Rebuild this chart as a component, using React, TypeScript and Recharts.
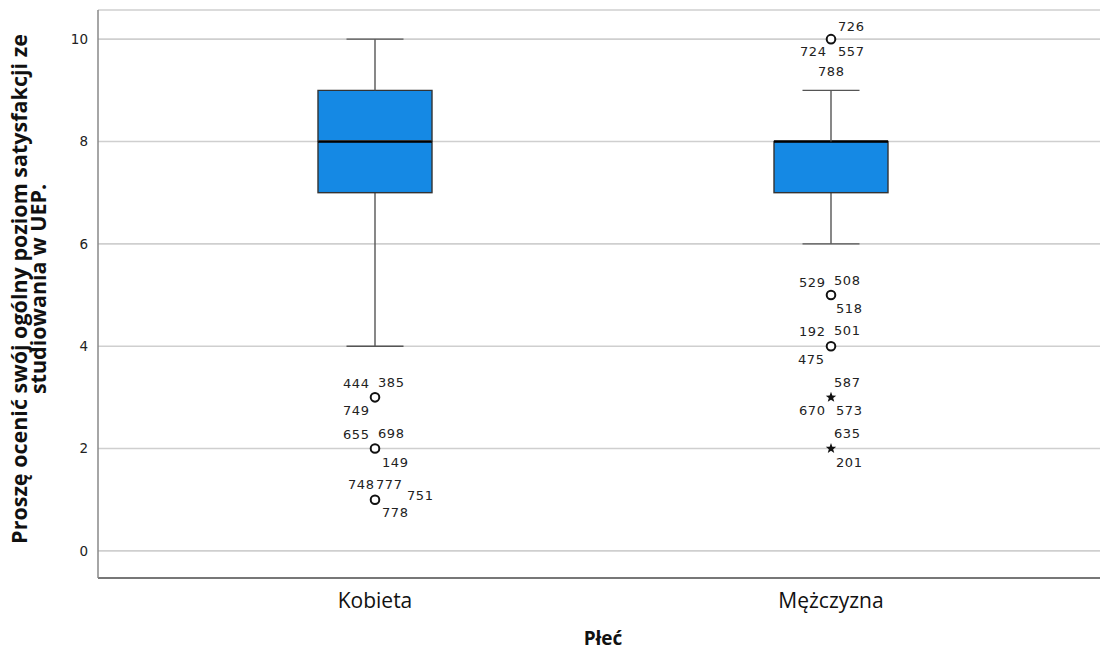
import { ComposedChart, Bar, Scatter, XAxis, YAxis, CartesianGrid } from 'recharts'

// box plot summary per group
const categories = ['Kobieta', 'Mężczyzna']
const whiskerLow = [4, 6]
const quartile1 = [7, 7]
const medians = [8, 8]
const quartile3 = [9, 8]
const whiskerHigh = [10, 9]

// outliers (o) and extremes (*), with case numbers
const outlierCategory = ['Kobieta', 'Kobieta', 'Kobieta', 'Mężczyzna', 'Mężczyzna', 'Mężczyzna', 'Mężczyzna', 'Mężczyzna']
const outlierValues = [3, 2, 1, 10, 5, 4, 3, 2]
const outlierExtreme = [false, false, false, false, false, false, true, true]
const outlierCases = [
  ['444', '385', '749'],
  ['655', '698', '149'],
  ['748', '777', '751', '778'],
  ['726', '724', '557', '788'],
  ['529', '508', '518'],
  ['192', '501', '475'],
  ['587', '670', '573'],
  ['635', '201'],
]

// where each case label sits around its marker (left edge, vertical centre)
const LABEL_OFFSET: Record<string, [number, number]> = {
  '444': [-32, -14], '385': [3, -15], '749': [-32, 13],
  '655': [-32, -14], '698': [3, -15], '149': [7, 14],
  '748': [-27, -15], '777': [1, -15], '751': [32, -4], '778': [7, 13],
  '726': [7, -13], '724': [-31, 12], '557': [7, 12], '788': [-13, 32],
  '529': [-32, -13], '508': [3, -15], '518': [5, 13],
  '192': [-32, -15], '501': [3, -16], '475': [-33, 13],
  '587': [3, -15], '670': [-32, 13], '573': [5, 13],
  '635': [3, -15], '201': [5, 14],
}

const BOX_FILL = '#1589e4'
const LABEL_FONT = '"DejaVu Sans", sans-serif'

const boxData = categories.map((name, i) => ({
  name,
  base: whiskerLow[i],
  lowWhisker: quartile1[i] - whiskerLow[i],
  lowBox: medians[i] - quartile1[i],
  highBox: quartile3[i] - medians[i],
  highWhisker: whiskerHigh[i] - quartile3[i],
}))

const outlierData = outlierValues.map((value, i) => ({
  name: outlierCategory[i],
  value,
  extreme: outlierExtreme[i],
  cases: outlierCases[i],
}))

const LowWhisker = (props: any) => {
  const { x, y, width, height } = props
  const cx = x + width / 2
  return (
    <g stroke="#555" strokeWidth={1.4}>
      <line x1={cx} x2={cx} y1={y} y2={y + height} />
      <line x1={cx - width / 4} x2={cx + width / 4} y1={y + height} y2={y + height} />
    </g>
  )
}

const HighWhisker = (props: any) => {
  const { x, y, width, height } = props
  const cx = x + width / 2
  return (
    <g stroke="#555" strokeWidth={1.4}>
      <line x1={cx} x2={cx} y1={y} y2={y + height} />
      <line x1={cx - width / 4} x2={cx + width / 4} y1={y} y2={y} />
    </g>
  )
}

const LowBox = (props: any) => {
  const { x, y, width, height } = props
  return (
    <g>
      <rect x={x} y={y} width={width} height={height} fill={BOX_FILL} stroke="#333" strokeWidth={1.4} />
      <line x1={x} x2={x + width} y1={y} y2={y} stroke="#000" strokeWidth={2.6} />
    </g>
  )
}

const HighBox = (props: any) => {
  const { x, y, width, height } = props
  if (!height) return <g />
  return (
    <g>
      <rect x={x} y={y} width={width} height={height - 1.5} fill={BOX_FILL} />
      <path
        d={`M${x},${y + height} L${x},${y} L${x + width},${y} L${x + width},${y + height}`}
        fill="none"
        stroke="#333"
        strokeWidth={1.4}
      />
    </g>
  )
}

const starPoints = (cx: number, cy: number, outer: number, inner: number) => {
  const pts: string[] = []
  for (let k = 0; k < 10; k++) {
    const r = k % 2 === 0 ? outer : inner
    const a = -Math.PI / 2 + (k * Math.PI) / 5
    pts.push(`${cx + r * Math.cos(a)},${cy + r * Math.sin(a)}`)
  }
  return pts.join(' ')
}

const OutlierShape = (props: any) => {
  const { cx, cy, payload } = props
  return (
    <g>
      {payload.extreme ? (
        <polygon points={starPoints(cx, cy, 5.5, 2.3)} fill="#111" />
      ) : (
        <circle cx={cx} cy={cy} r={4.3} fill="#fff" stroke="#111" strokeWidth={2} />
      )}
      {payload.cases.map((c: string) => {
        const [dx, dy] = LABEL_OFFSET[c] || [4, -14]
        return (
          <text
            key={c}
            x={cx + dx}
            y={cy + dy}
            dominantBaseline="central"
            fontFamily={LABEL_FONT}
            fontSize={13}
            letterSpacing={0.6}
            fill="#222"
          >
            {c}
          </text>
        )
      })}
    </g>
  )
}

const YTitle = (props: any) => {
  const { viewBox } = props
  const cy = viewBox.y + viewBox.height / 2 - 5
  return (
    <g transform={`rotate(-90, 0, ${cy})`}>
      <text
        x={0}
        y={cy}
        textAnchor="middle"
        fontFamily='"Open Sans", sans-serif'
        fontWeight="bold"
        fontSize={21.5}
        fill="#111"
      >
        <tspan x={0} dy={26.5}>Proszę ocenić swój ogólny poziom satysfakcji ze</tspan>
        <tspan x={0} dy={19}>studiowania w UEP.</tspan>
      </text>
    </g>
  )
}

const XTitle = (props: any) => {
  const { viewBox } = props
  return (
    <text
      x={viewBox.x + viewBox.width / 2}
      y={645}
      textAnchor="middle"
      fontFamily='"Open Sans", sans-serif'
      fontWeight="bold"
      fontSize={19}
      fill="#111"
    >
      Płeć
    </text>
  )
}

export default function App() {
  return (
    <div style={{ position: 'absolute', left: 0, top: 0, width: 1100, height: 653, overflow: 'hidden', background: '#fff' }}>
      <ComposedChart width={1110} height={653} data={boxData} margin={{ top: 10, right: 2, left: 0, bottom: 0 }}>
        <CartesianGrid horizontal vertical={false} stroke="#cfcfcf" strokeWidth={1.6} />
        <XAxis
          dataKey="name"
          type="category"
          allowDuplicatedCategory={false}
          padding={{ left: 49, right: 49 }}
          height={75}
          tickLine={false}
          axisLine={{ stroke: '#777', strokeWidth: 2 }}
          tickMargin={9}
          tick={{ fontSize: 21, fill: '#111', fontFamily: '"Open Sans", sans-serif' }}
          label={<XTitle />}
        />
        <YAxis
          type="number"
          domain={[-0.53, 10.57]}
          allowDataOverflow
          ticks={[0, 2, 4, 6, 8, 10]}
          width={98}
          tickLine={false}
          tickMargin={4}
          axisLine={{ stroke: '#888', strokeWidth: 1.5 }}
          tick={{ fontSize: 13.5, fill: '#222', fontFamily: LABEL_FONT }}
          label={<YTitle />}
        />
        <Bar dataKey="base" stackId="box" barSize={114} fill="transparent" isAnimationActive={false} />
        <Bar dataKey="lowWhisker" stackId="box" barSize={114} shape={<LowWhisker />} isAnimationActive={false} />
        <Bar dataKey="lowBox" stackId="box" barSize={114} shape={<LowBox />} isAnimationActive={false} />
        <Bar dataKey="highBox" stackId="box" barSize={114} shape={<HighBox />} isAnimationActive={false} />
        <Bar dataKey="highWhisker" stackId="box" barSize={114} shape={<HighWhisker />} isAnimationActive={false} />
        <Scatter data={outlierData} dataKey="value" shape={<OutlierShape />} isAnimationActive={false} />
      </ComposedChart>
    </div>
  )
}
